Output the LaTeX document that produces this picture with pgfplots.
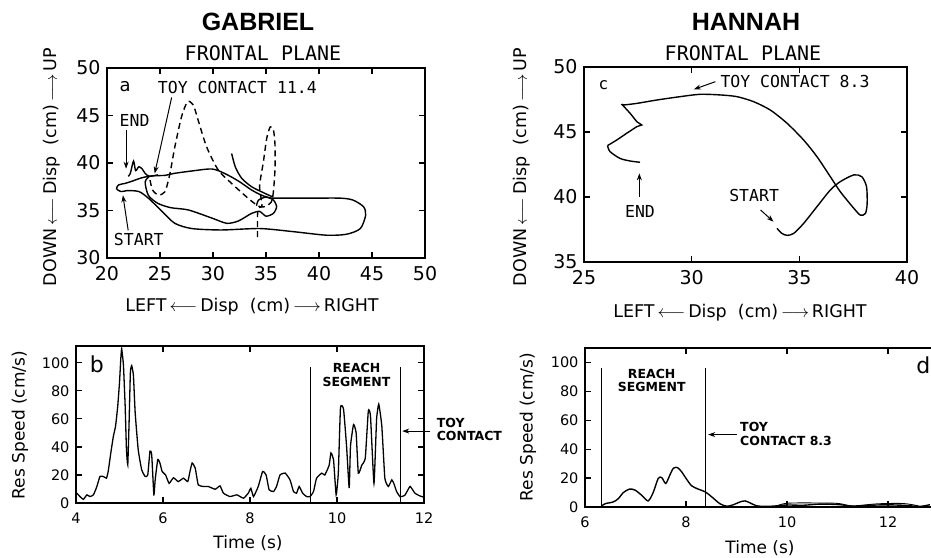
\documentclass[border=0pt]{standalone}
\usepackage{fontspec}
\setmainfont{DejaVu Sans}
\newfontfamily\mono{DejaVu Sans Mono}
\newfontfamily\helv{Liberation Sans}
\usepackage{pgfplots}
\pgfplotsset{compat=1.18}
\usetikzlibrary{arrows.meta}

\pgfplotsset{
  panel/.style={
    scale only axis, anchor=south west,
    axis line style={line width=1.5pt},
    every tick/.style={line width=1.2pt, black},
    major tick length=6pt,
    tick align=inside,
    clip mode=individual,
    /pgf/number format/assume math mode=true,
  },
  big/.style={
    ticklabel style={font=\fontsize{19}{19}\selectfont},
    xticklabel style={yshift=-5pt},
    yticklabel style={xshift=-3pt},
  },
  small/.style={
    ticklabel style={font=\fontsize{14.5}{14.5}\selectfont},
    xticklabel style={yshift=-6pt},
    yticklabel style={xshift=-3pt},
  },
  trace/.style={black, line width=1.4pt, smooth, tension=0.45},
  spike/.style={black, line width=1.3pt, smooth, tension=0.25},
}
\tikzset{
  lab/.style={font=\mono\fontsize{16.5}{16.5}\selectfont, inner sep=0pt},
  arr/.style={-{Stealth[length=7pt,width=5pt]}, line width=1pt},
  seg/.style={font=\fontsize{12.5}{13.5}\selectfont\bfseries, inner sep=0pt, align=center},
  axlab/.style={font=\fontsize{17.5}{17.5}\selectfont},
}
\newcommand{\la}{\,$\longleftarrow$\,}
\newcommand{\ra}{\,$\longrightarrow$\,}

\begin{document}
\begin{tikzpicture}
\path[use as bounding box] (0pt,0pt) rectangle (931pt,557pt);

% titles and axis labels
\node[font=\helv\fontsize{25}{25}\selectfont\bfseries] at (258pt,535pt) {GABRIEL};
\node[font=\helv\fontsize{25}{25}\selectfont\bfseries] at (746pt,535pt) {HANNAH};
\node[font=\mono\fontsize{20}{20}\selectfont] at (263pt,504pt) {FRONTAL PLANE};
\node[font=\mono\fontsize{20}{20}\selectfont] at (743pt,504pt) {FRONTAL PLANE};
\node[rotate=90, axlab] at (52pt,390pt) {DOWN\la Disp\ \ (cm)\ra UP};
\node[rotate=90, axlab] at (522pt,390pt) {DOWN\la Disp\ \ (cm)\ra UP};
\node[axlab] at (252pt,250pt) {LEFT\la Disp\ \ (cm)\ra RIGHT};
\node[axlab] at (740pt,244pt) {LEFT\la Disp\ \ (cm)\ra RIGHT};
\node[rotate=90, font=\fontsize{17}{17}\selectfont] at (20pt,132pt) {Res Speed (cm/s)};
\node[rotate=90, font=\fontsize{17}{17}\selectfont] at (528pt,130pt) {Res Speed (cm/s)};
\node[font=\fontsize{17}{17}\selectfont] at (248pt,14pt) {Time (s)};
\node[font=\fontsize{17}{17}\selectfont] at (760pt,9pt) {Time (s)};

% ---- panel a ----
\begin{axis}[panel, big, at={(107pt,299pt)}, width=318pt, height=190pt,
  xmin=20, xmax=50, ymin=30, ymax=50,
  xtick={20,25,...,50}, ytick={30,35,...,50}]
\addplot[trace] coordinates {
  (21.9,37.1)(21.3,37.0)(20.9,37.3)(21.1,37.7)(21.7,37.85)(22.4,38.1)(23.3,38.45)
  (24.3,38.65)(25.5,38.7)(26.3,38.9)(28.0,39.16)(29.9,39.37)(31.1,38.9)(32.4,38.1)
  (33.65,37.15)(34.6,36.6)(35.5,36.3)(36.0,36.3)(39.15,36.3)(42.0,36.3)(43.2,36.1)
  (44.2,35.4)(44.4,34.5)(43.9,33.1)(42.6,32.5)(40.7,32.4)(37.6,32.77)(34.43,33.1)
  (30.8,32.95)(28.0,33.1)(26.4,33.65)(25.2,34.9)(23.9,36.3)(23.0,37.0)(21.9,37.1)};
\addplot[trace] coordinates {
  (24.0,38.6)(23.6,38.0)(23.9,36.6)(24.8,35.75)(26.0,35.3)(27.7,35.05)(29.9,34.2)
  (31.3,33.65)(32.4,33.9)(33.65,34.7)(34.4,34.9)(35.0,34.4)(35.7,34.7)(36.0,35.4)
  (35.7,36.1)(35.0,36.4)(34.3,36.1)(34.1,35.5)};
\addplot[trace] coordinates {
  (22.0,38.6)(22.2,38.9)(22.5,40.2)(22.7,39.2)(23.0,39.6)(23.3,39.4)(23.6,38.9)
  (24.0,38.6)(24.8,38.75)};
\addplot[trace] coordinates {
  (31.76,41.0)(32.1,39.6)(32.7,38.4)(33.65,37.5)(34.9,36.8)(35.7,36.4)};
\addplot[trace, dash pattern=on 6pt off 4pt] coordinates {
  (24.06,38.2)(24.3,37.16)(24.84,36.63)(25.47,36.98)(25.94,38.9)(26.4,41.7)
  (27.04,44.9)(27.6,46.45)(28.14,46.1)(28.6,44.5)(29.4,41.7)(30.5,39.26)(31.9,37.7)
  (33.3,36.3)(34.1,35.6)(34.6,35.4)(34.5,36.6)(34.4,37.7)(34.75,40.1)(35.07,42.6)
  (35.4,43.8)(35.7,43.5)(35.85,41.9)(35.85,39.4)(35.7,37.0)(35.5,35.9)(34.9,35.4)
  (34.3,35.3)(34.2,34.5)(34.2,33.0)(34.2,31.9)};
\node[font=\fontsize{18}{18}\selectfont] at (axis cs:21.7,48.0) {a};
\node[lab] at (axis cs:32.3,47.9) {TOY CONTACT 11.4};
\node[lab] at (axis cs:22.6,44.5) {END};
\node[lab] at (axis cs:23.0,32.0) {START};
\draw[arr] (axis cs:26.1,46.9) -- (axis cs:24.5,38.9);
\draw[arr] (axis cs:21.8,43.5) -- (axis cs:21.8,39.4);
\draw[arr] (axis cs:22.0,32.9) -- (axis cs:21.5,36.6);
\end{axis}

% ---- panel c ----
\begin{axis}[panel, big, at={(584pt,295pt)}, width=323pt, height=195pt,
  xmin=25, xmax=40, ymin=35, ymax=50,
  xtick={25,30,35,40}, ytick={35,40,45,50}]
\addplot[trace] coordinates {
  (33.96,37.59)(34.19,37.2)(34.43,37.05)(34.74,37.2)(35.2,37.97)(35.82,39.26)
  (36.44,40.54)(36.9,41.18)(37.53,41.7)(37.9,41.56)(38.12,40.8)(38.15,39.5)
  (38.07,38.74)(37.84,38.6)(37.53,39.13)(36.9,40.41)(36.44,41.56)(35.82,43.1)
  (35.2,44.38)(34.43,45.67)(33.65,46.69)(32.88,47.33)(32.1,47.72)(31.33,47.85)
  (30.4,47.9)(29.47,47.72)(28.38,47.46)(27.45,47.2)(26.83,47.08)(26.75,47.15)};
\addplot[black, line width=1.4pt] coordinates {
  (26.75,47.15)(27.14,46.44)(27.45,45.8)(27.68,45.54)(27.45,45.41)(26.98,44.9)
  (26.52,44.38)(26.09,43.95)};
\addplot[trace] coordinates {
  (26.09,43.95)(26.21,43.49)(26.67,42.97)(27.14,42.77)(27.6,42.67)};
\node[font=\mono\fontsize{16}{16}\selectfont] at (axis cs:25.9,48.6) {c};
\node[lab, anchor=west] at (axis cs:31.33,48.87) {TOY CONTACT 8.3};
\draw[arr] (axis cs:31.1,48.87) -- (axis cs:30.1,48.28);
\node[lab] at (axis cs:27.6,38.87) {END};
\draw[arr] (axis cs:27.57,40.03) -- (axis cs:27.57,41.82);
\node[lab] at (axis cs:32.9,40.15) {START};
\draw[arr] (axis cs:33.2,39.0) -- (axis cs:33.8,38.1);
\end{axis}

% ---- panel b ----
\begin{axis}[panel, small, at={(76pt,54pt)}, width=348pt, height=157pt,
  xmin=4, xmax=12, ymin=0, ymax=112,
  xtick={4,6,...,12}, ytick={0,20,...,100}]
\addplot[spike] coordinates {
  (4.02,7.0)(4.09,4.6)(4.17,2.6)(4.25,5.8)(4.32,4.6)(4.40,5.8)(4.48,11.8)(4.55,18.9)
  (4.63,18.9)(4.70,17.7)(4.74,22.5)(4.80,35.7)(4.86,47.7)(4.91,54.9)(4.96,69.3)
  (5.0,86)(5.03,103)(5.05,110)(5.09,98.6)(5.13,69.3)(5.16,38)(5.19,27.3)(5.22,57)
  (5.25,93)(5.28,98)(5.32,91)(5.36,64.5)(5.43,38)(5.51,23.7)(5.59,18.9)(5.65,20)
  (5.70,37)(5.74,34.5)(5.79,5.8)(5.82,16.5)(5.88,31)(5.93,28.5)(5.98,22.5)(6.06,20)
  (6.14,14)(6.24,18)(6.35,15.3)(6.47,17.7)(6.57,15.3)(6.62,22.5)(6.67,28.5)(6.74,25)
  (6.81,13)(6.93,11.8)(7.04,11.8)(7.2,9.8)(7.31,12.2)(7.39,7)(7.54,4.6)(7.70,5.8)
  (7.85,3.4)(7.96,7)(8.02,10.5)(8.08,4.6)(8.19,11.8)(8.29,22.5)(8.37,20)(8.44,9.4)
  (8.54,8.2)(8.61,11.8)(8.69,20)(8.81,21.3)(8.92,16.5)(9.0,8.2)(9.07,7)(9.13,11.8)
  (9.21,7)(9.30,4.6)(9.38,4.6)(9.46,8.2)(9.53,17.7)(9.65,21.3)(9.72,20)(9.82,27)
  (9.86,35.7)(9.92,31)(9.98,5.8)(10.03,21.3)(10.08,68)(10.15,67)(10.22,40.5)
  (10.28,10.6)(10.31,40.5)(10.38,56)(10.44,50)(10.49,21.3)(10.57,27)(10.65,32)
  (10.72,65.7)(10.77,62)(10.85,14)(10.91,59.7)(10.96,70.5)(11.03,55)(11.10,17.7)
  (11.18,11.8)(11.26,16.5)(11.31,13.7)(11.37,8.2)(11.45,4.5)(11.56,5.5)(11.68,11.8)
  (11.79,7)(11.91,5)(12.0,4.1)};
\draw[line width=1pt] (axis cs:9.40,0) -- (axis cs:9.40,97);
\draw[line width=1pt] (axis cs:11.45,0) -- (axis cs:11.45,97);
\node[font=\fontsize{22}{22}\selectfont] at (axis cs:4.48,99) {b};
\node[seg] at (axis cs:10.45,91.5) {REACH\\SEGMENT};
\draw[arr] (axis cs:12.14,51.3) -- (axis cs:11.5,51.3);
\node[seg, anchor=west, align=left] at (axis cs:12.29,52.5) {TOY\\CONTACT};
\end{axis}

% ---- panel d ----
\begin{axis}[panel, small, at={(585pt,50pt)}, width=353.5pt, height=159pt,
  xmin=6, xmax=13, ymin=0, ymax=110,
  xtick={6,8,10,12}, ytick={0,20,...,100}]
\addplot[trace] coordinates {
  (6.33,0.7)(6.40,2.3)(6.56,3.5)(6.66,5.8)(6.76,10)(6.88,12.4)(6.99,11.7)(7.12,8.2)
  (7.25,4.2)(7.35,10)(7.45,19.8)(7.52,20.3)(7.60,16.3)(7.68,22.1)(7.75,26.8)
  (7.83,27.3)(7.91,24.5)(8.01,19.3)(8.11,14.7)(8.24,12.4)(8.38,10.5)(8.51,7)
  (8.67,2.3)(8.81,0.5)(8.94,1.6)(9.07,3.5)(9.17,4.2)(9.27,2.8)(9.40,0.8)(9.6,0.4)
  (9.8,0.8)(10.0,1.4)(10.32,1.2)(10.65,2.0)(11.05,1.6)(11.31,0.4)(11.64,1.2)
  (11.97,1.5)(12.3,1.2)(12.63,0.4)(12.83,1.6)};
\addplot[black, line width=0.9pt, smooth] coordinates {
  (9.8,0.8)(10.0,2.6)(10.5,2.8)(11.0,2.5)(11.3,0.8)(11.8,2.2)(12.3,2.4)(12.6,0.8)};
\draw[line width=1pt] (axis cs:6.33,0) -- (axis cs:6.33,96);
\draw[line width=1pt] (axis cs:8.38,0) -- (axis cs:8.38,96);
\node[font=\fontsize{22}{22}\selectfont] at (axis cs:12.7,98) {d};
\node[seg] at (axis cs:7.32,87.7) {REACH\\SEGMENT};
\draw[arr] (axis cs:9.0,50.1) -- (axis cs:8.44,50.1);
\node[seg, anchor=west, align=left] at (axis cs:9.07,50.7) {TOY\\CONTACT 8.3};
\end{axis}
\end{tikzpicture}
\end{document}
